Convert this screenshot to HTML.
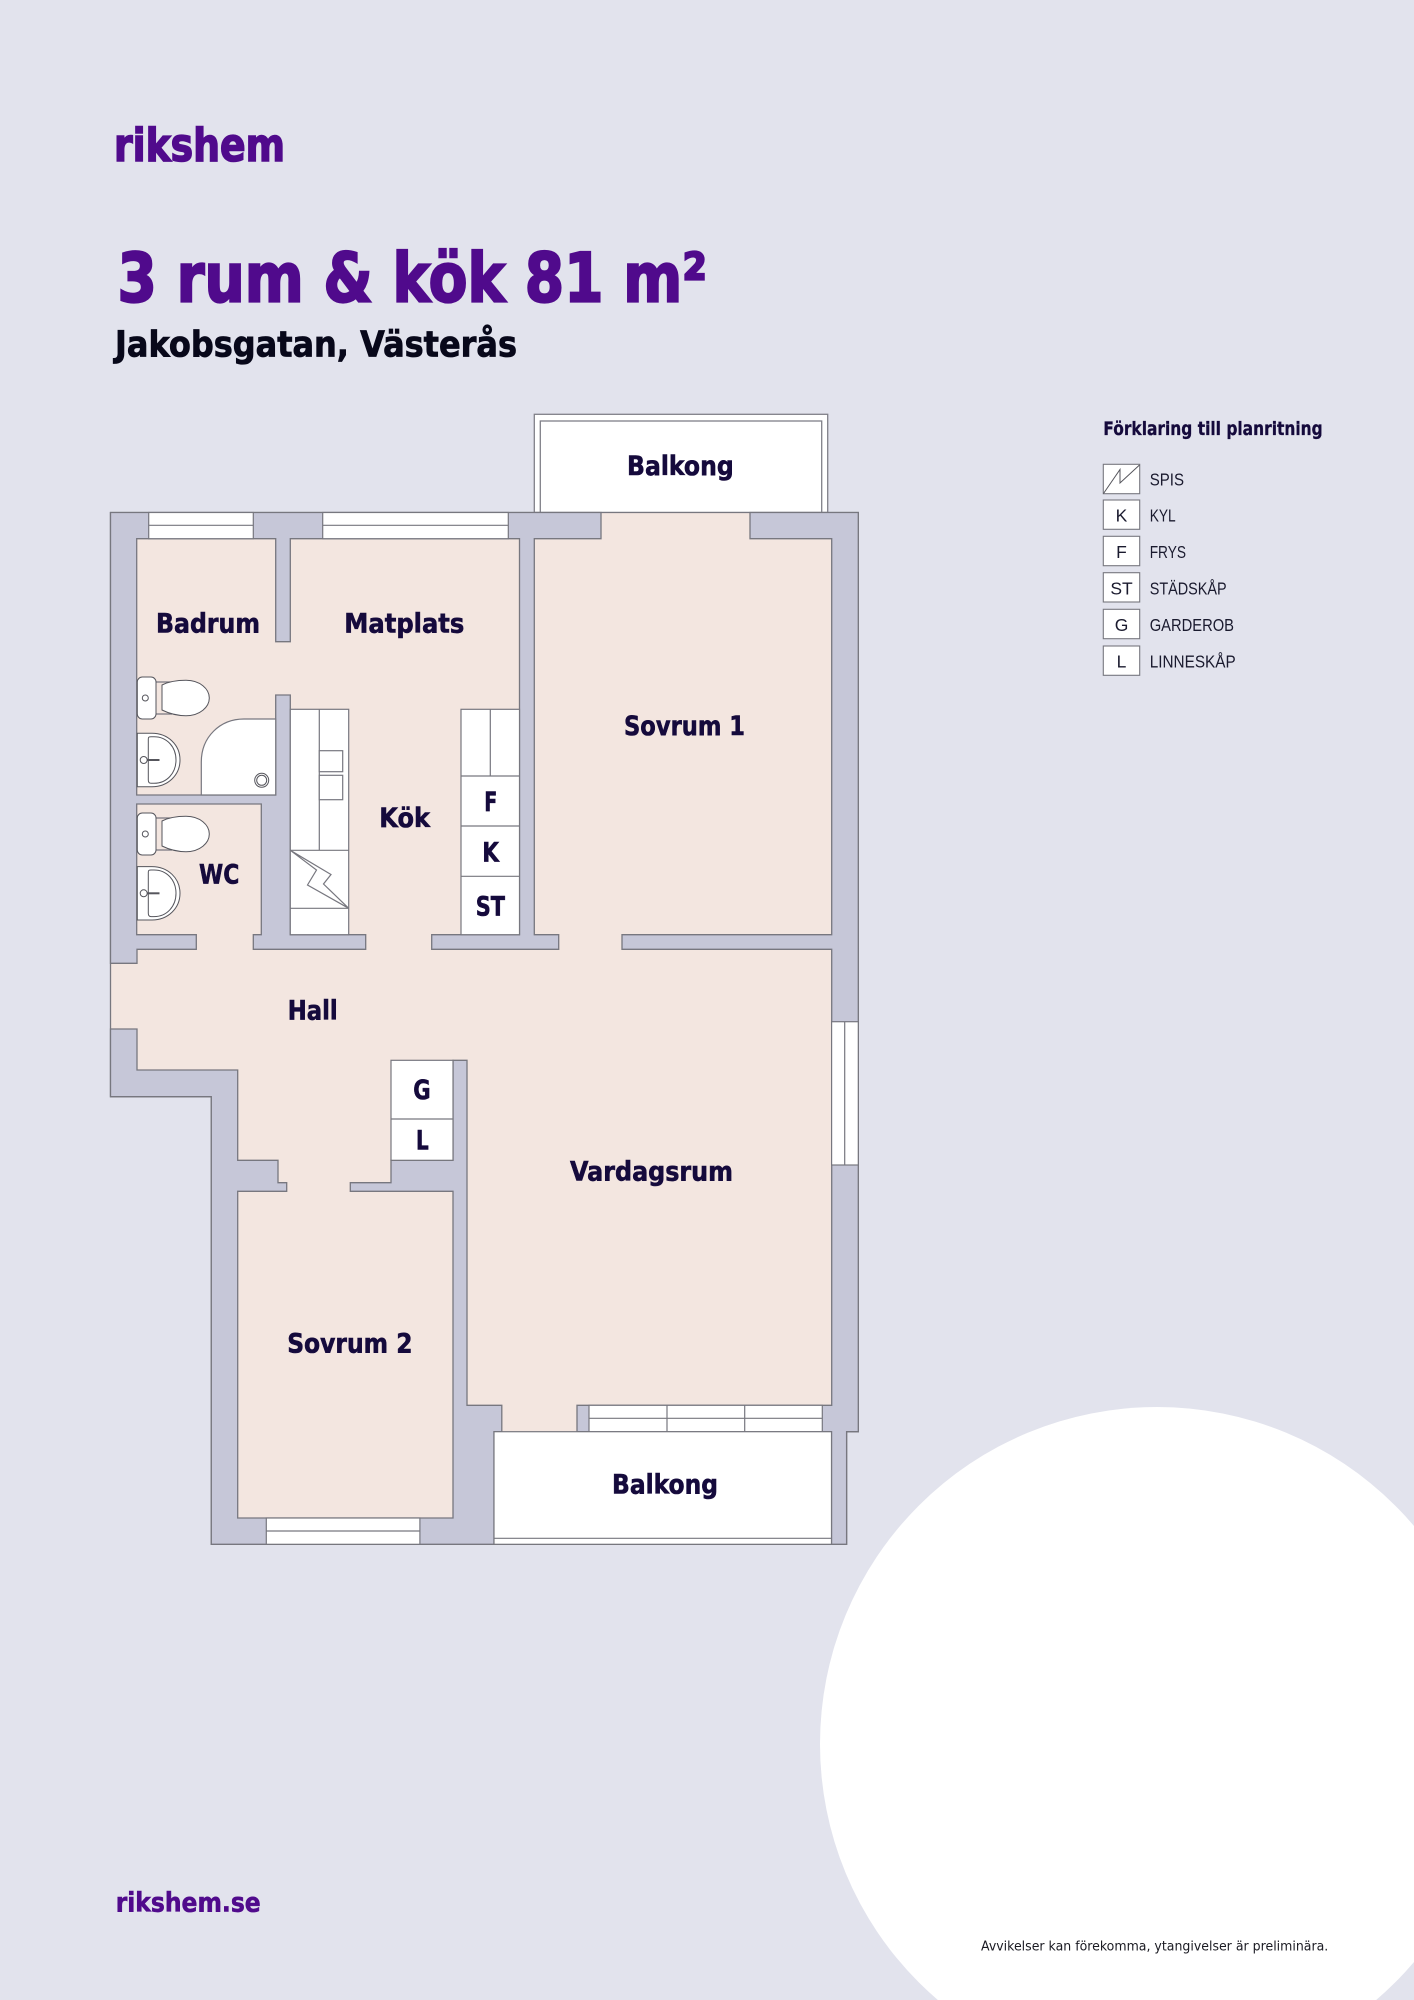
<!DOCTYPE html>
<html><head><meta charset="utf-8"><title>Planritning</title>
<style>html,body{margin:0;padding:0;background:#e2e3ed}svg{display:block}
text{font-family:"DejaVu Sans","Liberation Sans",sans-serif}
.r{font-weight:700;font-size:27px;fill:#150a3c;stroke:#150a3c;stroke-width:.6}
.l{font-family:"Liberation Sans",sans-serif;font-size:17.5px;fill:#1a1a2e}
.b{fill:#fff;stroke:#808088;stroke-width:1.3}
.w{fill:#c6c7d8;stroke:#77777f;stroke-width:1.3;stroke-linejoin:miter}
.f{fill:#fff;stroke:#77777f;stroke-width:1.2}
.n{fill:none;stroke:#77777f;stroke-width:1.2}
.t{fill:#fff;stroke:#55555c;stroke-width:1}
</style></head><body>
<svg width="1414" height="2000" viewBox="0 0 1414 2000" xmlns="http://www.w3.org/2000/svg">
<rect width="1414" height="2000" fill="#e2e3ed"/>
<circle cx="1157" cy="1744" r="337" fill="#fff"/>

<text x="114" y="161" textLength="171" lengthAdjust="spacingAndGlyphs" font-size="45" font-weight="700" fill="#500a8c" stroke="#500a8c" stroke-width="1.6">rikshem</text>
<text x="117.5" y="301.5" textLength="589.5" lengthAdjust="spacingAndGlyphs" font-size="67.5" font-weight="700" fill="#500a8c" stroke="#500a8c" stroke-width="2.2">3 rum &amp; kök 81 m²</text>
<text x="115" y="356.3" textLength="402" lengthAdjust="spacingAndGlyphs" font-size="36" font-weight="700" fill="#08081a" stroke="#08081a" stroke-width=".8">Jakobsgatan, Västerås</text>

<!-- top balcony -->
<rect x="534.3" y="414.3" width="293.4" height="98.2" class="b"/>
<rect x="540.3" y="421" width="281.4" height="91.5" class="b"/>

<!-- building base -->
<polygon fill="#f3e6e0" stroke="#77777f" stroke-width="1.3" points="110.5,512.5 858.3,512.5 858.3,1431.7 846.6,1431.7 846.6,1544.3 211.3,1544.3 211.3,1096.7 110.5,1096.7"/>

<!-- walls -->
<polygon class="w" points="110.5,512.5 601,512.5 601,538.7 534.3,538.7 534.3,934.7 558.7,934.7 558.7,949.3 431.7,949.3 431.7,934.7 519.5,934.7 519.5,538.7 290.3,538.7 290.3,641.7 275.7,641.7 275.7,538.7 136.7,538.7 136.7,795 275.7,795 275.7,695 290.3,695 290.3,934.7 365.7,934.7 365.7,949.3 253.3,949.3 253.3,934.7 261.3,934.7 261.3,804 136.7,804 136.7,934.7 196.3,934.7 196.3,949.3 137,949.3 137,963.3 110.5,963.3"/>
<polygon class="w" points="750,512.5 858.3,512.5 858.3,1431.7 846.6,1431.7 846.6,1544.3 831.5,1544.3 831.5,1431.7 577,1431.7 577,1405.3 831.7,1405.3 831.7,949.3 622,949.3 622,934.7 831.7,934.7 831.7,538.7 750,538.7"/>
<polygon class="w" points="110.5,1029 137,1029 137,1070 237.7,1070 237.7,1160.3 278,1160.3 278,1182.7 286.7,1182.7 286.7,1191.3 237.7,1191.3 237.7,1518 453,1518 453,1191.3 350.3,1191.3 350.3,1182.7 391,1182.7 391,1160.3 453,1160.3 453,1060.3 467,1060.3 467,1405.3 501.8,1405.3 501.8,1431.7 494,1431.7 494,1544.3 211.3,1544.3 211.3,1096.7 110.5,1096.7"/>

<!-- windows -->
<rect x="148.7" y="512.5" width="104.6" height="26.2" class="f"/><path d="M148.7 525.3H253.3" class="n"/>
<rect x="322.7" y="512.5" width="185.6" height="26.2" class="f"/><path d="M322.7 525.3H508.3" class="n"/>
<rect x="266.3" y="1518" width="153.6" height="26.3" class="f"/><path d="M266.3 1531H419.9" class="n"/>
<rect x="589" y="1405.3" width="233.3" height="26.4" class="f"/><path d="M589 1418.3H822.3M667 1405.3V1431.7M744.7 1405.3V1431.7" class="n"/>
<rect x="831.6" y="1021.7" width="26.7" height="143.3" class="f"/><path d="M844.7 1021.7V1165" class="n"/>

<!-- bottom balcony -->
<rect x="494" y="1431.7" width="337.5" height="112.6" class="f"/><path d="M494 1538.3H831.5" class="n"/>

<!-- kitchen -->
<rect x="290.3" y="709.3" width="58.4" height="225.4" class="f"/>
<path d="M319.3 709.3V850.3M290.3 850.3H348.7M290.3 908.3H348.7" class="n"/>
<rect x="319.3" y="750.7" width="23.4" height="21" class="f"/><rect x="319.3" y="775.3" width="23.4" height="24.4" class="f"/>
<path d="M290.3 850.3L331 874.5L323.5 884L348.7 908.3L307.5 885L316.5 870Z" class="n"/>
<rect x="461" y="709.3" width="58.5" height="225.4" class="f"/>
<path d="M490.3 709.3V776M461 776H519.5M461 826H519.5M461 876.3H519.5" class="n"/>
<!-- closet -->
<rect x="391" y="1060.3" width="62" height="100" class="f"/><path d="M391 1119H453" class="n"/>

<!-- shower -->
<path d="M201.3 795V762C201.3 737 220 719 244 719H275.7V795Z" class="f"/>
<circle cx="261.7" cy="780.3" r="7" class="t"/><circle cx="261.7" cy="780.3" r="5" class="t"/>

<!-- toilets -->
<g>
<path d="M156 682H172M156 714H172" class="n"/>
<rect x="137.3" y="677" width="18.7" height="42" rx="5" class="t"/>
<circle cx="145.3" cy="698" r="3" class="t"/>
<path d="M162 685C168 682 176 680.3 186 680.3C200 680.3 209.3 689 209.3 698C209.3 707 200 715.7 186 715.7C176 715.7 168 713 162 710Z" class="t"/>
</g>
<g>
<path d="M156 818H172M156 850H172" class="n"/>
<rect x="137.3" y="813" width="18.7" height="42" rx="5" class="t"/>
<circle cx="145.3" cy="834" r="3" class="t"/>
<path d="M162 821C168 818 176 816.3 186 816.3C200 816.3 209.3 825 209.3 834C209.3 843 200 851.7 186 851.7C176 851.7 168 849 162 846Z" class="t"/>
</g>
<!-- sinks -->
<path d="M137.3 733.3H152C168 733.3 180 745 180 760C180 775 168 786.7 152 786.7H137.3Z" class="t"/>
<path d="M148.3 739C148.3 737 149 736.7 151 736.7H154C167 736.7 176 747 176 760C176 773 167 783.3 154 783.3H151C149 783.3 148.3 782 148.3 780Z" class="t"/>
<path d="M147 760H159.5" stroke="#55555c" stroke-width="2"/><circle cx="143.7" cy="760" r="3.5" class="t"/>
<path d="M137.3 866.6H152C168 866.6 180 878.3 180 893.3C180 908.3 168 920 152 920H137.3Z" class="t"/>
<path d="M148.3 872.3C148.3 870.3 149 870 151 870H154C167 870 176 880.3 176 893.3C176 906.3 167 916.6 154 916.6H151C149 916.6 148.3 915.3 148.3 913.3Z" class="t"/>
<path d="M147 893.3H159.5" stroke="#55555c" stroke-width="2"/><circle cx="143.7" cy="893.3" r="3.5" class="t"/>

<!-- room labels -->
<text class="r" x="627" y="475" textLength="106.7" lengthAdjust="spacingAndGlyphs">Balkong</text>
<text class="r" x="156" y="632.3" textLength="104" lengthAdjust="spacingAndGlyphs">Badrum</text>
<text class="r" x="344.3" y="632.3" textLength="120" lengthAdjust="spacingAndGlyphs">Matplats</text>
<text class="r" x="624" y="735" textLength="121" lengthAdjust="spacingAndGlyphs">Sovrum 1</text>
<text class="r" x="379.3" y="827" textLength="50.7" lengthAdjust="spacingAndGlyphs">Kök</text>
<text class="r" x="199" y="883.3" textLength="40.3" lengthAdjust="spacingAndGlyphs">WC</text>
<text class="r" x="484.3" y="811" textLength="13" lengthAdjust="spacingAndGlyphs">F</text>
<text class="r" x="482.3" y="861.7" textLength="16.7" lengthAdjust="spacingAndGlyphs">K</text>
<text class="r" x="475.7" y="915.7" textLength="29.3" lengthAdjust="spacingAndGlyphs">ST</text>
<text class="r" x="287.7" y="1019.3" textLength="50" lengthAdjust="spacingAndGlyphs">Hall</text>
<text class="r" x="413.3" y="1099" textLength="17.4" lengthAdjust="spacingAndGlyphs">G</text>
<text class="r" x="416" y="1149.3" textLength="12.7" lengthAdjust="spacingAndGlyphs">L</text>
<text class="r" x="570" y="1180.6" textLength="163" lengthAdjust="spacingAndGlyphs">Vardagsrum</text>
<text class="r" x="287.2" y="1352.7" textLength="125.3" lengthAdjust="spacingAndGlyphs">Sovrum 2</text>
<text class="r" x="612" y="1493.3" textLength="106" lengthAdjust="spacingAndGlyphs">Balkong</text>

<!-- legend -->
<text x="1103.3" y="435" textLength="219.4" lengthAdjust="spacingAndGlyphs" font-size="18.3" font-weight="700" fill="#150a3c" stroke="#150a3c" stroke-width=".3">Förklaring till planritning</text>
<g fill="#fff" stroke="#77777f" stroke-width="1.1">
<rect x="1103.3" y="464.3" width="36.4" height="29.4"/>
<rect x="1103.3" y="500" width="36.4" height="29.3"/>
<rect x="1103.3" y="536.3" width="36.4" height="29.4"/>
<rect x="1103.3" y="572.7" width="36.4" height="29.3"/>
<rect x="1103.3" y="609.3" width="36.4" height="29.4"/>
<rect x="1103.3" y="646" width="36.4" height="29.3"/>
</g>
<path d="M1103.5 493.5L1120 469.5V483L1139.5 465" fill="none" stroke="#55555c" stroke-width="1"/>
<text class="l" text-anchor="middle" x="1121.5" y="521.7">K</text>
<text class="l" text-anchor="middle" x="1121.5" y="558">F</text>
<text class="l" text-anchor="middle" x="1121.5" y="594.7">ST</text>
<text class="l" text-anchor="middle" x="1121.5" y="631">G</text>
<text class="l" text-anchor="middle" x="1121.5" y="667.7">L</text>
<text class="l" x="1149.7" y="485.3" textLength="34.3" lengthAdjust="spacingAndGlyphs">SPIS</text>
<text class="l" x="1149.7" y="521.7" textLength="26" lengthAdjust="spacingAndGlyphs">KYL</text>
<text class="l" x="1149.7" y="558" textLength="36.3" lengthAdjust="spacingAndGlyphs">FRYS</text>
<text class="l" x="1149.7" y="594.7" textLength="77" lengthAdjust="spacingAndGlyphs">STÄDSKÅP</text>
<text class="l" x="1149.7" y="631" textLength="84.3" lengthAdjust="spacingAndGlyphs">GARDEROB</text>
<text class="l" x="1149.7" y="667.7" textLength="86" lengthAdjust="spacingAndGlyphs">LINNESKÅP</text>

<!-- footer -->
<text x="115.7" y="1911.7" textLength="145" lengthAdjust="spacingAndGlyphs" font-size="27" font-weight="700" fill="#500a8c" stroke="#500a8c" stroke-width=".6">rikshem.se</text>
<text x="981" y="1950.7" textLength="347.3" lengthAdjust="spacingAndGlyphs" font-size="13" fill="#1a1a22">Avvikelser kan förekomma, ytangivelser är preliminära.</text>
</svg>
</body></html>
